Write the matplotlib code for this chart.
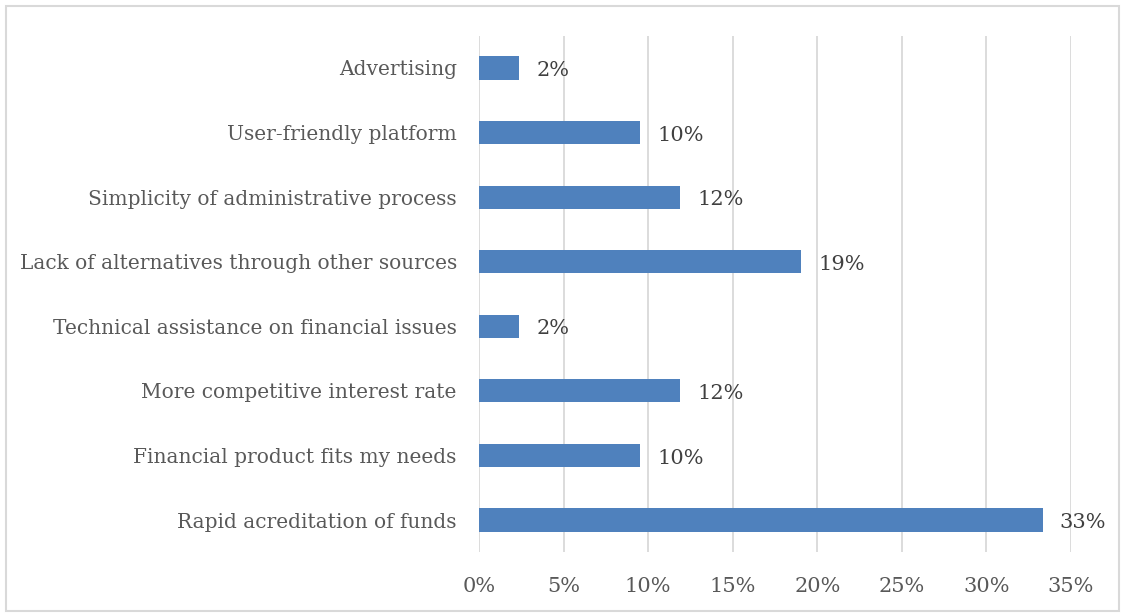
import matplotlib
matplotlib.use("Agg")
import matplotlib.pyplot as plt
from matplotlib.patches import Rectangle

categories = [
    "Rapid acreditation of funds",
    "Financial product fits my needs",
    "More competitive interest rate",
    "Technical assistance on financial issues",
    "Lack of alternatives through other sources",
    "Simplicity of administrative process",
    "User-friendly platform",
    "Advertising",
]
shares = [33.33, 9.52, 11.90, 2.38, 19.05, 11.90, 9.52, 2.38]
x_ticks = [0, 5, 10, 15, 20, 25, 30, 35]

plt.rcParams["font.family"] = ["DejaVu Serif"]

fig = plt.figure(figsize=(11.25, 6.13), dpi=100)
ax = fig.add_axes([0.4258, 0.099, 0.952 - 0.4258, 0.9418 - 0.099])

y = list(range(len(categories)))
ax.barh(y, shares, height=0.36, color="#4f81bd", zorder=3)
for yi, v in zip(y, shares):
    ax.text(v + 1.0, yi - 0.04, f"{v:.0f}%", va="center", ha="left",
            fontsize=15, color="#404040", zorder=4)

ax.set_xlim(0, 35)
ax.set_ylim(-0.5, len(categories) - 0.5)
ax.set_xticks(x_ticks)
ax.set_xticklabels([f"{t}%" for t in x_ticks])
ax.set_yticks(y)
ax.set_yticklabels(categories)
ax.tick_params(axis="both", length=0, colors="#595959")
ax.tick_params(axis="x", labelsize=15, pad=18)
ax.tick_params(axis="y", labelsize=14.5, pad=16)
ax.xaxis.grid(True, color="#d9d9d9", linewidth=1.3, zorder=0)
for s in ax.spines.values():
    s.set_visible(False)

fig.patches.append(Rectangle((0.005, 0.003), 0.99, 0.988, transform=fig.transFigure,
                             fill=False, edgecolor="#d9d9d9", linewidth=1.5))

fig.savefig("out.png", dpi=100, facecolor="white")
